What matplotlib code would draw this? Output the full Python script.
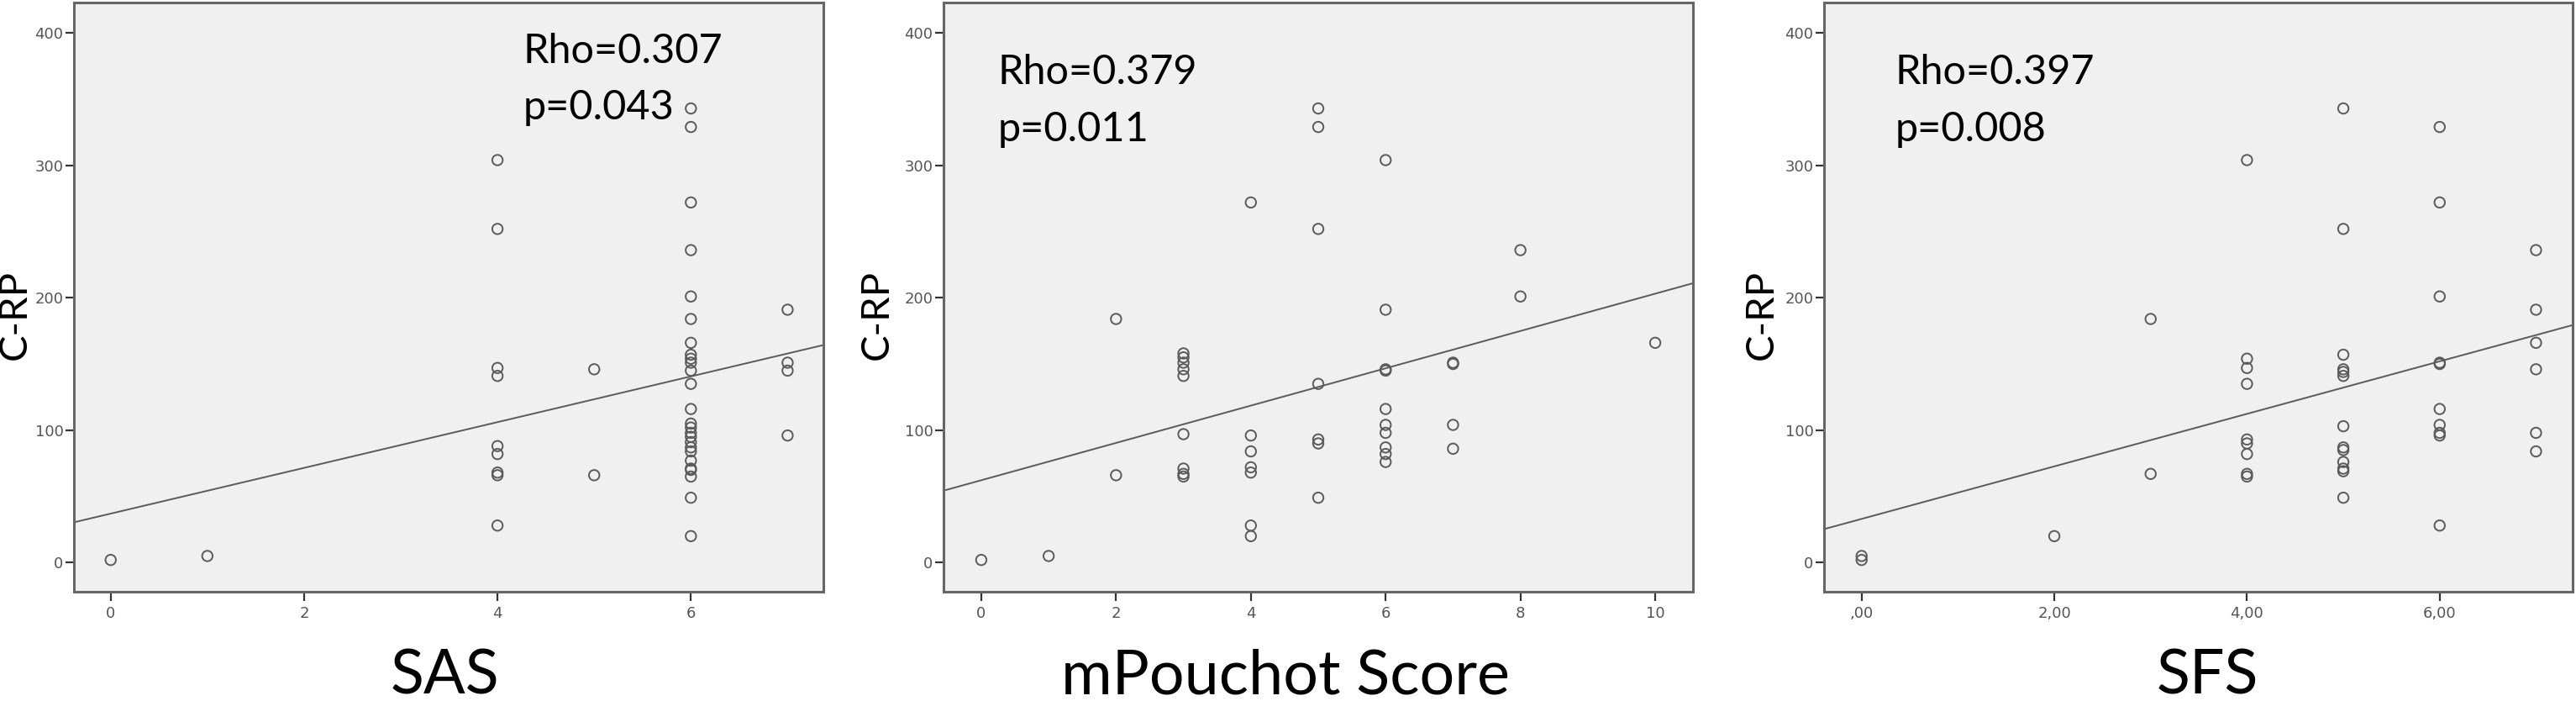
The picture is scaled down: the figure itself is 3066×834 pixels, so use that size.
import numpy as np
import matplotlib.pyplot as plt

# C-RP against three clinical scores, one panel per score
sas = [0, 1,
       4, 4, 4, 4, 4, 4, 4, 4, 4,
       5, 5,
       6, 6, 6, 6, 6, 6, 6, 6, 6, 6, 6, 6, 6, 6, 6, 6, 6, 6, 6, 6, 6, 6, 6, 6, 6, 6,
       7, 7, 7, 7]
crp_sas = [2, 5,
           304, 252, 147, 141, 88, 82, 68, 66, 28,
           146, 66,
           343, 329, 272, 236, 201, 184, 166, 157, 154, 151, 145, 135, 116, 105,
           102, 98, 95, 91, 87, 84, 77, 71, 70, 65, 49, 20,
           191, 151, 145, 96]

mpouchot = [0, 1,
            2, 2,
            3, 3, 3, 3, 3, 3, 3, 3, 3,
            4, 4, 4, 4, 4, 4, 4,
            5, 5, 5, 5, 5, 5, 5,
            6, 6, 6, 6, 6, 6, 6, 6, 6, 6,
            7, 7, 7, 7,
            8, 8,
            10]
crp_mpouchot = [2, 5,
                184, 66,
                158, 155, 151, 146, 141, 97, 71, 67, 65,
                272, 96, 84, 72, 68, 28, 20,
                343, 329, 252, 135, 93, 90, 49,
                304, 191, 146, 145, 116, 104, 98, 87, 82, 76,
                151, 150, 104, 86,
                236, 201,
                166]

sfs = [0, 0,
       2,
       3, 3,
       4, 4, 4, 4, 4, 4, 4, 4, 4,
       5, 5, 5, 5, 5, 5, 5, 5, 5, 5, 5, 5, 5,
       6, 6, 6, 6, 6, 6, 6, 6, 6, 6,
       7, 7, 7, 7, 7, 7]
crp_sfs = [5, 2,
           20,
           184, 67,
           304, 154, 147, 135, 93, 90, 82, 67, 65,
           343, 252, 157, 146, 144, 141, 103, 87, 85, 76, 71, 69, 49,
           329, 272, 201, 151, 150, 116, 104, 98, 96, 28,
           236, 191, 166, 146, 98, 84]

xlabels = ["SAS", "mPouchot Score", "SFS"]
rho_text = ["Rho=0.307", "Rho=0.379", "Rho=0.397"]
p_text = ["p=0.043", "p=0.011", "p=0.008"]
xticks = [[0, 2, 4, 6], [0, 2, 4, 6, 8, 10], [0, 2, 4, 6]]
xticklabels = [["0", "2", "4", "6"],
               ["0", "2", "4", "6", "8", "10"],
               [",00", "2,00", "4,00", "6,00"]]
yticks = [0, 100, 200, 300, 400]

xs = [sas, mpouchot, sfs]
ys = [crp_sas, crp_mpouchot, crp_sfs]

W, H = 3066, 834
fig = plt.figure(figsize=(W / 100, H / 100), dpi=100)

# pixel boxes of each plot area (left, right), shared top/bottom
boxes = [(88, 980), (1123, 2015), (2171, 3062)]
top, bottom = 3, 704
xlims = [(-0.38, 7.37), (-0.56, 10.56), (-0.39, 7.38)]
text_x = [0.599, 0.072, 0.095]
text_base = [(75, 142), (100, 167.5), (100, 167.5)]
ylab_off = [-70, -79, -74]
xlab_center = [529, 1530, 2627]
xlab_base = 826

big = ["Lato", "DejaVu Sans"]
small = ["Liberation Sans Narrow", "DejaVu Sans"]
dark = "#5a5a5a"

for i in range(3):
    l, r = boxes[i]
    w = r - l
    h = bottom - top
    ax = fig.add_axes([l / W, 1 - bottom / H, w / W, h / H])
    ax.set_facecolor("#f0f0f0")
    ax.scatter(xs[i], ys[i], s=80, facecolors="none", edgecolors=dark,
               linewidths=1.4, zorder=3)

    # least-squares fit line across the whole plot area
    m, b = np.polyfit(xs[i], ys[i], 1)
    ax.axline((0, b), slope=m, color=dark, lw=1.4, zorder=2)

    ax.set_xlim(*xlims[i])
    ax.set_ylim(-22, 423)
    ax.set_xticks(xticks[i])
    ax.set_xticklabels(xticklabels[i], family=small, fontsize=13, color="#555555")
    ax.set_yticks(yticks)
    ax.set_yticklabels([str(t) for t in yticks], family=small, fontsize=13,
                       color="#555555")
    ax.tick_params(axis="x", length=8, width=1.6, color="#333333", pad=4)
    ax.tick_params(axis="y", length=7, width=1.6, color="#333333", pad=2)
    for sp in ax.spines.values():
        sp.set_color("#666666")
        sp.set_linewidth(2.2)

    ax.text(text_x[i], 1 - (text_base[i][0] - top) / h, rho_text[i],
            transform=ax.transAxes, family=big, fontsize=35, va="baseline")
    ax.text(text_x[i], 1 - (text_base[i][1] - top) / h, p_text[i],
            transform=ax.transAxes, family=big, fontsize=35, va="baseline")

    ax.text(ylab_off[i] / w, 0.47, "C-RP", transform=ax.transAxes, family=big,
            fontsize=34, rotation=90, ha="center", va="center")
    ax.text((xlab_center[i] - l) / w, -(xlab_base - bottom) / h, xlabels[i],
            transform=ax.transAxes, family=big, fontsize=53, ha="center",
            va="baseline")

fig.savefig("out.png", dpi=100)
